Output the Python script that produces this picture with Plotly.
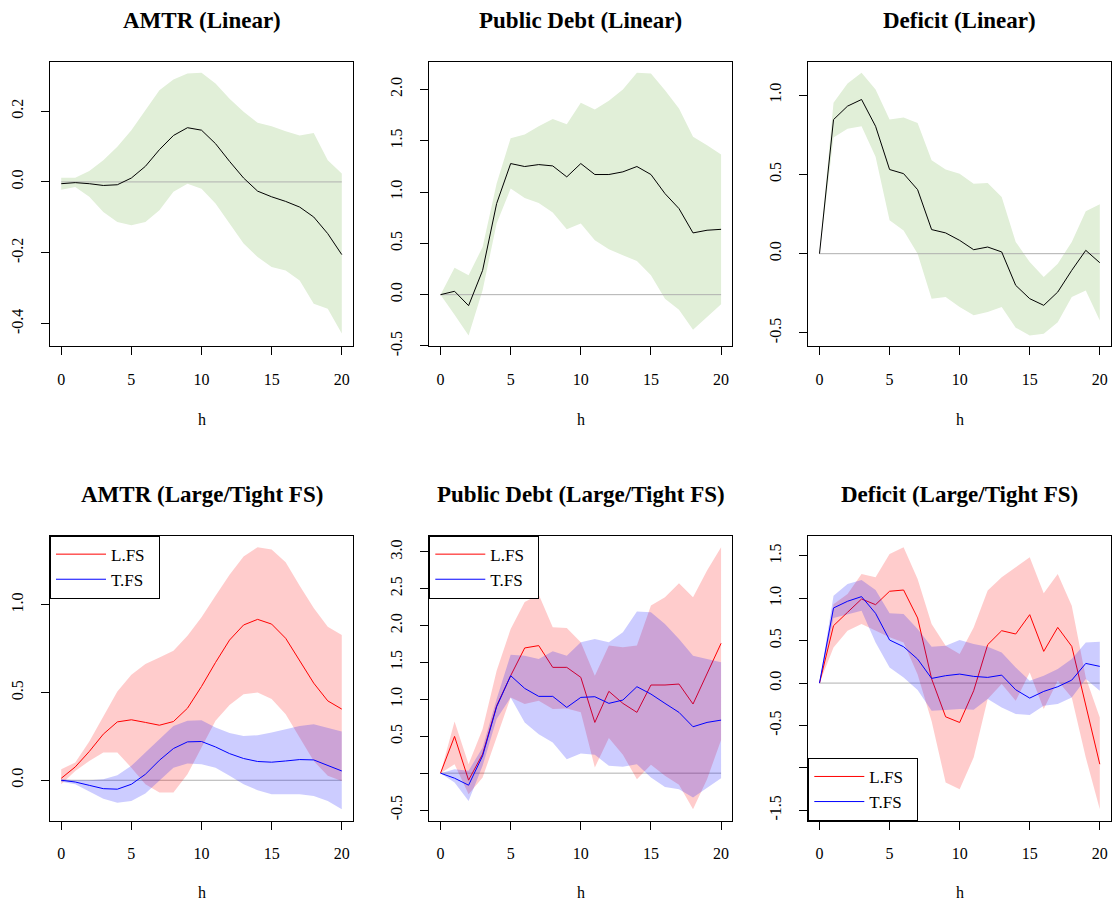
import plotly.graph_objects as go

# ---------------- data ----------------
H = list(range(21))

# Linear model
amtr_lin_mid = [-0.005, -0.002, -0.005, -0.010, -0.008, 0.011, 0.044, 0.091, 0.131, 0.153, 0.146,
                0.108, 0.058, 0.011, -0.026, -0.042, -0.055, -0.071, -0.099, -0.146, -0.205]
amtr_lin_hi = [0.012, 0.012, 0.031, 0.061, 0.099, 0.146, 0.202, 0.259, 0.289, 0.306, 0.308,
               0.278, 0.235, 0.198, 0.167, 0.157, 0.143, 0.131, 0.138, 0.061, 0.024]
amtr_lin_lo = [-0.022, -0.014, -0.042, -0.085, -0.113, -0.122, -0.113, -0.080, -0.028, -0.005, -0.019,
               -0.061, -0.118, -0.174, -0.212, -0.240, -0.250, -0.278, -0.344, -0.358, -0.428]

debt_lin_mid = [0.0, 0.033, -0.107, 0.237, 0.888, 1.278, 1.249, 1.268, 1.255, 1.148, 1.278,
                1.171, 1.171, 1.197, 1.249, 1.171, 0.985, 0.839, 0.602, 0.628, 0.637]
debt_lin_hi = [0.0, 0.263, 0.189, 0.465, 1.083, 1.525, 1.561, 1.642, 1.711, 1.662, 1.870,
               1.805, 1.889, 2.000, 2.163, 2.156, 1.993, 1.815, 1.538, 1.457, 1.366]
debt_lin_lo = [0.0, -0.195, -0.397, 0.042, 0.693, 1.034, 0.943, 0.894, 0.800, 0.637, 0.693,
               0.530, 0.442, 0.384, 0.328, 0.189, -0.039, -0.146, -0.341, -0.218, -0.094]

def_lin_mid = [0.0, 0.846, 0.931, 0.973, 0.804, 0.531, 0.505, 0.404, 0.152, 0.131, 0.084,
               0.025, 0.042, 0.011, -0.200, -0.284, -0.326, -0.242, -0.105, 0.021, -0.057]
def_lin_hi = [0.0, 0.952, 1.074, 1.141, 1.036, 0.846, 0.859, 0.825, 0.589, 0.531, 0.505,
              0.442, 0.446, 0.358, 0.074, -0.053, -0.147, -0.063, 0.074, 0.267, 0.312]
def_lin_lo = [0.0, 0.733, 0.789, 0.804, 0.611, 0.211, 0.147, 0.000, -0.284, -0.274, -0.337,
              -0.389, -0.368, -0.337, -0.467, -0.516, -0.505, -0.432, -0.274, -0.232, -0.421]

# Large (L.FS) / Tight (T.FS) fiscal space
amtr_L_mid = [0.011, 0.076, 0.164, 0.263, 0.333, 0.345, 0.330, 0.314, 0.335, 0.411, 0.535,
              0.672, 0.800, 0.886, 0.918, 0.891, 0.810, 0.682, 0.554, 0.453, 0.406]
amtr_L_hi = [0.063, 0.101, 0.221, 0.368, 0.507, 0.602, 0.663, 0.701, 0.739, 0.825, 0.930,
             1.053, 1.173, 1.276, 1.330, 1.316, 1.244, 1.110, 0.983, 0.876, 0.829]
amtr_L_lo = [-0.023, 0.053, 0.110, 0.158, 0.158, 0.072, -0.023, -0.070, -0.070, 0.034, 0.187,
             0.339, 0.429, 0.491, 0.501, 0.463, 0.377, 0.244, 0.110, 0.025, -0.004]
amtr_T_mid = [0.0, -0.010, -0.029, -0.048, -0.051, -0.023, 0.034, 0.114, 0.181, 0.219, 0.221,
              0.190, 0.152, 0.124, 0.107, 0.103, 0.110, 0.118, 0.116, 0.086, 0.053]
amtr_T_hi = [0.006, 0.0, 0.0, 0.006, 0.029, 0.082, 0.158, 0.234, 0.310, 0.339, 0.343,
             0.301, 0.269, 0.253, 0.257, 0.272, 0.291, 0.310, 0.320, 0.297, 0.278]
amtr_T_lo = [-0.008, -0.023, -0.065, -0.105, -0.128, -0.118, -0.076, -0.004, 0.072, 0.095, 0.091,
             0.072, 0.025, -0.023, -0.057, -0.080, -0.080, -0.080, -0.090, -0.118, -0.166]

debt_L_mid = [0.0, 0.498, -0.095, 0.258, 0.914, 1.321, 1.697, 1.729, 1.434, 1.434, 1.299,
              0.688, 1.109, 0.946, 0.824, 1.195, 1.195, 1.208, 0.937, 1.344, 1.760]
debt_L_hi = [0.0, 0.701, 0.122, 0.597, 1.389, 1.955, 2.320, 2.420, 1.977, 1.968, 1.776,
             1.321, 1.729, 1.706, 1.729, 2.271, 2.385, 2.575, 2.385, 2.747, 3.063]
debt_L_lo = [0.0, 0.122, -0.285, -0.059, 0.484, 1.027, 0.937, 0.982, 0.869, 0.878, 0.824,
             0.077, 0.475, 0.249, -0.081, 0.113, -0.036, -0.158, -0.489, -0.081, 0.448]
debt_T_mid = [0.0, -0.068, -0.163, 0.235, 0.900, 1.321, 1.149, 1.041, 1.041, 0.891, 1.027,
              1.036, 0.946, 0.991, 1.172, 1.072, 0.946, 0.824, 0.629, 0.688, 0.719]
debt_T_hi = [0.0, 0.054, 0.032, 0.348, 1.005, 1.606, 1.593, 1.548, 1.652, 1.593, 1.774,
             1.819, 1.774, 1.910, 2.190, 2.181, 2.023, 1.819, 1.593, 1.548, 1.502]
debt_T_lo = [0.0, -0.127, -0.376, 0.100, 0.733, 1.027, 0.688, 0.529, 0.416, 0.190, 0.267,
             0.249, 0.100, 0.086, 0.122, -0.059, -0.186, -0.217, -0.330, -0.195, -0.068]

def_L_mid = [0.0, 0.677, 0.835, 0.992, 0.925, 1.083, 1.098, 0.768, 0.050, -0.398, -0.465,
             -0.091, 0.453, 0.618, 0.579, 0.807, 0.374, 0.657, 0.433, -0.268, -0.957]
def_L_hi = [0.0, 0.930, 1.050, 1.287, 1.248, 1.524, 1.602, 1.228, 0.697, 0.441, 0.343,
            0.657, 1.091, 1.248, 1.366, 1.484, 1.059, 1.287, 0.913, 0.067, -0.406]
def_L_lo = [0.0, 0.421, 0.618, 0.697, 0.618, 0.540, 0.480, 0.100, -0.450, -1.173, -1.252,
            -0.878, -0.189, -0.012, -0.209, 0.126, -0.307, 0.028, -0.169, -0.878, -1.488]
def_T_mid = [0.0, 0.886, 0.965, 1.020, 0.823, 0.508, 0.429, 0.283, 0.055, 0.087, 0.106,
             0.079, 0.067, 0.094, -0.079, -0.177, -0.098, -0.043, 0.035, 0.232, 0.197]
def_T_hi = [0.0, 1.031, 1.169, 1.217, 1.098, 0.823, 0.815, 0.638, 0.429, 0.441, 0.508,
            0.461, 0.429, 0.362, 0.185, 0.028, 0.087, 0.165, 0.283, 0.480, 0.488]
def_T_lo = [0.0, 0.768, 0.807, 0.854, 0.480, 0.185, 0.067, -0.083, -0.327, -0.319, -0.307,
            -0.315, -0.189, -0.287, -0.366, -0.378, -0.268, -0.248, -0.169, 0.047, -0.091]

titles = ["AMTR (Linear)", "Public Debt (Linear)", "Deficit (Linear)",
          "AMTR (Large/Tight FS)", "Public Debt (Large/Tight FS)", "Deficit (Large/Tight FS)"]
series_names = ["L.FS", "T.FS"]
x_ticks = [0, 5, 10, 15, 20]
y_ticks = [
    [-0.4, -0.2, 0.0, 0.2],
    [-0.5, 0.0, 0.5, 1.0, 1.5, 2.0],
    [-0.5, 0.0, 0.5, 1.0],
    [0.0, 0.5, 1.0],
    [-0.5, 0.0, 0.5, 1.0, 1.5, 2.0, 2.5, 3.0],
    [-1.5, -1.0, -0.5, 0.0, 0.5, 1.0, 1.5],
]
y_ticktext = [
    ["-0.4", "-0.2", "0.0", "0.2"],
    ["-0.5", "0.0", "0.5", "1.0", "1.5", "2.0"],
    ["-0.5", "0.0", "0.5", "1.0"],
    ["0.0", "0.5", "1.0"],
    ["-0.5", "", "0.5", "1.0", "1.5", "2.0", "2.5", "3.0"],
    ["-1.5", "", "-0.5", "0.0", "0.5", "1.0", "1.5"],
]

# ---------------- styles / layout ----------------
W, HT = 1113, 916
SY = HT / 905.0              # vertical design scale
FONT = "Liberation Serif"
GREEN = "#e1efd8"
RED_FILL = "rgba(255,0,0,0.2)"
BLUE_FILL = "rgba(0,0,255,0.2)"
ZERO_COL = "#b0b0b0"

col_px = [(50, 353), (429.3, 732.3), (808.3, 1111.0)]
row_px = [(61.7 * SY, 346.0 * SY), (535.0 * SY, 820.0 * SY)]
title_px = [20 * SY, 494 * SY]
hlab_px = [419 * SY, 892 * SY]
y_ranges = [(-0.464, 0.339), (-0.504, 2.27), (-0.585, 1.211),
            (-0.232, 1.396), (-0.647, 3.22), (-1.626, 1.740)]

fig = go.Figure()


def axis_ids(i):
    return ("x" if i == 0 else f"x{i+1}"), ("y" if i == 0 else f"y{i+1}")


def band(i, hi, lo, color):
    xa, ya = axis_ids(i)
    fig.add_trace(go.Scatter(x=H + H[::-1], y=hi + lo[::-1], fill="toself",
                             fillcolor=color, line=dict(width=0), mode="lines",
                             hoverinfo="skip", showlegend=False, xaxis=xa, yaxis=ya))


def line(i, y, color, name=None, legend=None):
    xa, ya = axis_ids(i)
    fig.add_trace(go.Scatter(x=H, y=y, mode="lines", line=dict(color=color, width=1),
                             name=name, showlegend=name is not None,
                             legend=legend, xaxis=xa, yaxis=ya))


def zero(i):
    xa, ya = axis_ids(i)
    fig.add_trace(go.Scatter(x=[H[0], H[-1]], y=[0, 0], mode="lines",
                             line=dict(color=ZERO_COL, width=1), hoverinfo="skip",
                             showlegend=False, xaxis=xa, yaxis=ya))


# linear panels
for i, (mid, hi, lo) in enumerate([(amtr_lin_mid, amtr_lin_hi, amtr_lin_lo),
                                   (debt_lin_mid, debt_lin_hi, debt_lin_lo),
                                   (def_lin_mid, def_lin_hi, def_lin_lo)]):
    band(i, hi, lo, GREEN)
    zero(i)
    line(i, mid, "black")

# large / tight panels
legends = ["legend", "legend2", "legend3"]
for k, (Lm, Lh, Ll, Tm, Th, Tl) in enumerate([
        (amtr_L_mid, amtr_L_hi, amtr_L_lo, amtr_T_mid, amtr_T_hi, amtr_T_lo),
        (debt_L_mid, debt_L_hi, debt_L_lo, debt_T_mid, debt_T_hi, debt_T_lo),
        (def_L_mid, def_L_hi, def_L_lo, def_T_mid, def_T_hi, def_T_lo)]):
    i = k + 3
    zero(i)
    band(i, Lh, Ll, RED_FILL)
    line(i, Lm, "#ff0000", series_names[0] + "\u00a0\u00a0", legends[k])
    band(i, Th, Tl, BLUE_FILL)
    line(i, Tm, "#0000ff", series_names[1] + "\u00a0\u00a0", legends[k])

layout = dict(width=W, height=HT, margin=dict(l=0, r=0, t=0, b=0),
              plot_bgcolor="white", paper_bgcolor="white", hovermode=False,
              font=dict(family=FONT, size=16, color="black"))

annotations = []
for i in range(6):
    r, c = divmod(i, 3)
    x0, x1 = col_px[c]
    y0, y1 = row_px[r]
    xa_key = "xaxis" if i == 0 else f"xaxis{i+1}"
    ya_key = "yaxis" if i == 0 else f"yaxis{i+1}"
    xa, ya = axis_ids(i)
    common = dict(showline=True, mirror=True, linecolor="black", linewidth=1,
                  ticks="outside", ticklen=8, tickcolor="black", tickwidth=1,
                  showgrid=False, zeroline=False, tickfont=dict(family=FONT, size=16))
    layout[xa_key] = dict(domain=[x0 / W, x1 / W], range=[-0.8, 20.8], anchor=ya,
                          tickvals=x_ticks, ticktext=[str(v) for v in x_ticks],
                          ticklabelstandoff=10, **common)
    layout[ya_key] = dict(domain=[1 - y1 / HT, 1 - y0 / HT], range=list(y_ranges[i]),
                          anchor=xa, tickvals=y_ticks[i], ticktext=y_ticktext[i],
                          tickangle=-90, ticklabelstandoff=12, **common)
    cx = (x0 + x1) / 2 / W
    annotations.append(dict(text=f"<b>{titles[i]}</b>", x=cx, y=1 - title_px[r] / HT,
                            xref="paper", yref="paper", xanchor="center", yanchor="middle",
                            showarrow=False, font=dict(family=FONT, size=23)))
    annotations.append(dict(text="h", x=cx, y=1 - hlab_px[r] / HT, xref="paper", yref="paper",
                            xanchor="center", yanchor="middle", showarrow=False,
                            font=dict(family=FONT, size=16)))
layout["annotations"] = annotations

leg_common = dict(bgcolor="white", bordercolor="black", borderwidth=1,
                  font=dict(family=FONT, size=17), xanchor="left", itemwidth=50,
                  tracegroupgap=0)
layout["legend"] = dict(x=col_px[0][0] / W, y=1 - row_px[1][0] / HT, yanchor="top", **leg_common)
layout["legend2"] = dict(x=col_px[1][0] / W, y=1 - row_px[1][0] / HT, yanchor="top", **leg_common)
layout["legend3"] = dict(x=col_px[2][0] / W, y=1 - row_px[1][1] / HT, yanchor="bottom", **leg_common)

fig.update_layout(**layout)
fig.write_html("out.html", config={"displayModeBar": False, "responsive": False},
               post_script="document.body.style.margin='0px';document.body.style.overflow='hidden';")
